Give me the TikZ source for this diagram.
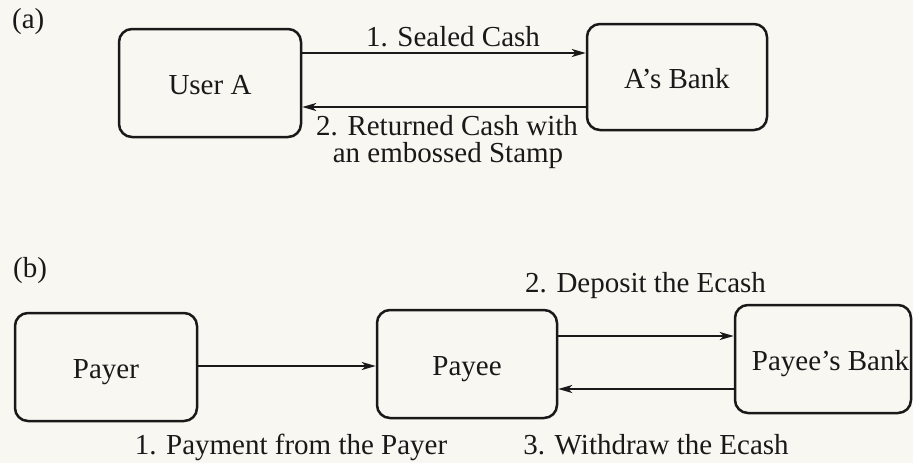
\documentclass[tikz,border=0pt]{standalone}
\usepackage{fontspec}
\setmainfont{Liberation Serif}
\usetikzlibrary{arrows.meta}
\definecolor{paper}{rgb}{0.975,0.968,0.945}
\definecolor{ink}{rgb}{0.1,0.1,0.1}
\tikzset{
  box/.style={draw=ink, line width=2.5pt, rounded corners=13pt, inner sep=0pt, text=ink,
              text height=25pt, text depth=3pt},
  arr/.style={draw=ink, line width=2pt, -{Stealth[length=14pt,width=8pt,inset=4pt]}},
  lbl/.style={text=ink, inner sep=0pt, anchor=base}
}
\begin{document}
\begin{tikzpicture}[x=1pt,y=-1pt,font=\fontsize{29}{30}\selectfont]
\fill[paper] (0,0) rectangle (913,463);
\useasboundingbox (0,0) rectangle (913,463);
% (a)
\node[lbl, anchor=base west] (la) at (12,28) {(a)};
\node[box, minimum width=182pt, minimum height=108pt] (ua) at (210,83) {User A};
\node[box, minimum width=180pt, minimum height=106pt] (bank) at (677,77) {A’s Bank};
\draw[arr] (ua.east |- 0,53) -- (bank.west |- 0,53);
\draw[arr] (bank.west |- 0,107) -- (ua.east |- 0,107);
\node[lbl] (t1) at (453,46) {1. Sealed Cash};
\node[lbl] (t2a) at (447,135) {2. Returned Cash with};
\node[lbl] (t2b) at (448,162) {an embossed Stamp};
% (b)
\node[lbl, anchor=base west] (lb) at (13,277) {(b)};
\node[box, minimum width=182pt, minimum height=108pt] (payer) at (106,367) {Payer};
\node[box, minimum width=180pt, minimum height=108pt] (payee) at (467,364) {Payee};
\node[box, minimum width=176pt, minimum height=108pt] (pbank) at (823,359) {\hspace*{15pt}Payee’s Bank};
\draw[arr] (payer.east |- 0,366) -- (payee.west |- 0,366);
\draw[arr] (payee.east |- 0,336) -- (pbank.west |- 0,336);
\draw[arr] (pbank.west |- 0,389) -- (payee.east |- 0,389);
\node[lbl] (t3) at (645.5,292) {2. Deposit the Ecash};
\node[lbl] (t4) at (291,454) {1. Payment from the Payer};
\node[lbl] (t5) at (656,454) {3. Withdraw the Ecash};
\end{tikzpicture}
\end{document}
